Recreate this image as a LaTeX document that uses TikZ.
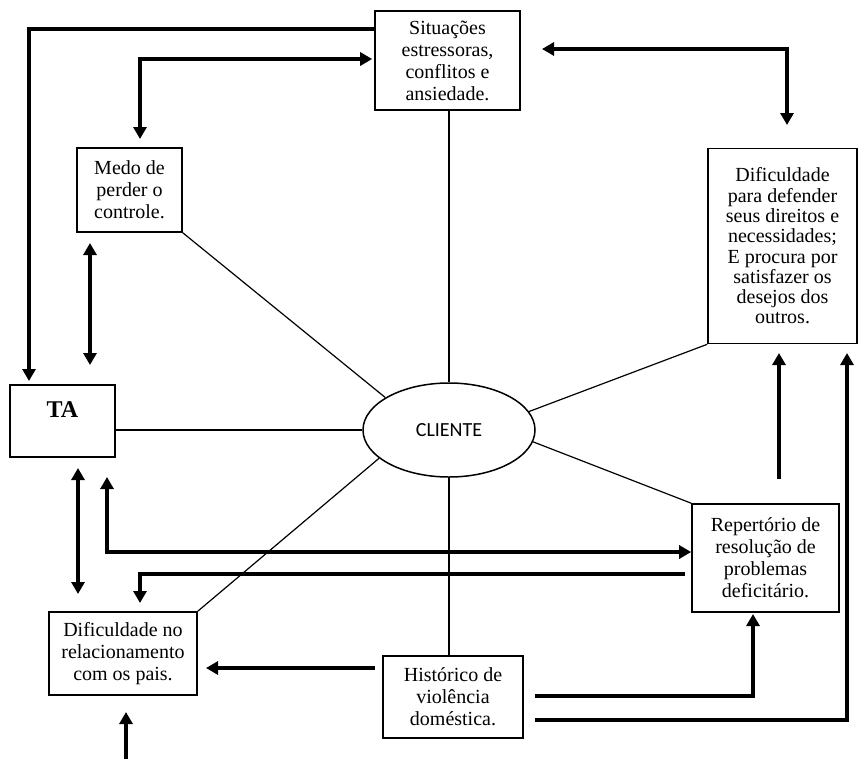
\documentclass[tikz,border=0pt]{standalone}
\usepackage{fontspec}
\setmainfont{Liberation Serif}
\newfontfamily\clifont{Carlito}
\usetikzlibrary{arrows.meta,shapes.geometric}
\begin{document}
\begin{tikzpicture}[x=1pt,y=-1pt,
  box/.style={draw,line width=1.6pt,rectangle,inner sep=0pt,align=center,
    font=\fontsize{20}{22}\selectfont},
  thinline/.style={line width=1.2pt},
  arr/.style={line width=4pt,-{Triangle[width=13pt,length=12pt]}},
  darr/.style={line width=4pt,{Triangle[width=13pt,length=12pt]}-{Triangle[width=13pt,length=12pt]}}]
\useasboundingbox (0,0) rectangle (866,758);

% boxes
\node[box,minimum width=145pt,minimum height=99pt] (sit) at (447.5,60.5)
  {Situações\\estressoras,\\conflitos e\\ansiedade.};
\node[box,minimum width=105pt,minimum height=84pt] (medo) at (129.5,190)
  {Medo de\\perder o\\controle.};
\node[box,minimum width=149pt,minimum height=195pt,font=\fontsize{20}{20.3}\selectfont] (dir) at (782.5,246)
  {Dificuldade\\para defender\\seus direitos e\\necessidades;\\E procura por\\satisfazer os\\desejos dos\\outros.};
\node[box,minimum width=105pt,minimum height=72pt,
  label={[font=\bfseries\fontsize{24}{26}\selectfont,anchor=north,yshift=-14pt]north:TA}] (ta) at (62.5,421) {};
\node[box,minimum width=148pt,minimum height=83pt] (pais) at (123,653.5)
  {Dificuldade no\\relacionamento\\com os pais.};
\node[box,minimum width=140pt,minimum height=82pt] (hist) at (453,697)
  {Histórico de\\violência\\doméstica.};
\node[box,minimum width=147pt,minimum height=108pt] (rep) at (765.5,558)
  {Repertório de\\resolução de\\problemas\\deficitário.};
\node[draw,ellipse,line width=1.5pt,minimum width=172pt,minimum height=94pt,inner sep=0pt,
  font=\clifont\fontsize{20}{22}\selectfont] (cli) at (449,430) {CLIENTE};

% thin connectors to the client
\draw[thinline] (sit.south -| cli.north) -- (cli.north);
\draw[thinline] (cli.south) -- (hist.north -| cli.south);
\draw[thinline] (ta.east |- cli.west) -- (cli.west);
\draw[thinline] (medo.south east) -- (cli.153);
\draw[thinline] (pais.north east) -- (cli.202);
\draw[thinline] (dir.south west) -- (cli.13);
\draw[thinline] (rep.north west) -- (cli.-8);

% named free ends
\coordinate (taIn) at (29,381);
\coordinate (medoIn) at (140,139);
\coordinate (sitR) at (542,49);
\coordinate (dirIn) at (787,125);
\coordinate (mA) at (90,243);
\coordinate (mB) at (90,365);
\coordinate (pA) at (78,468);
\coordinate (pB) at (78,594);
\coordinate (taUp) at (107,477);
\coordinate (repOut) at (685,574);
\coordinate (paisIn) at (140,603);
\coordinate (histL) at (375,668);
\coordinate (paisR) at (206,668);
\coordinate (botStart) at (126,762);
\coordinate (paisUp) at (126,712);
\coordinate (histR1) at (535,696);
\coordinate (repIn) at (753,614);
\coordinate (histR2) at (535,720);
\coordinate (dirInA) at (847,353);
\coordinate (repUp) at (779,479);
\coordinate (dirInB) at (779,353);

% thick arrows
\draw[arr] (sit.west |- 0,29) -| (taIn);
\draw[darr,shorten <=2pt] (sit.west |- 0,59) -| (medoIn);
\draw[darr] (sitR) -| (dirIn);
\draw[darr] (mA) -- (mB);
\draw[darr] (pA) -- (pB);
\draw[darr] (taUp) |- (rep.west |- 0,552);
\draw[arr] (repOut) -| (paisIn);
\draw[arr] (histL) -- (paisR);
\draw[arr] (botStart) -- (paisUp);
\draw[arr] (histR1) -| (repIn);
\draw[arr] (histR2) -| (dirInA);
\draw[arr] (repUp) -- (dirInB);
\end{tikzpicture}
\end{document}
